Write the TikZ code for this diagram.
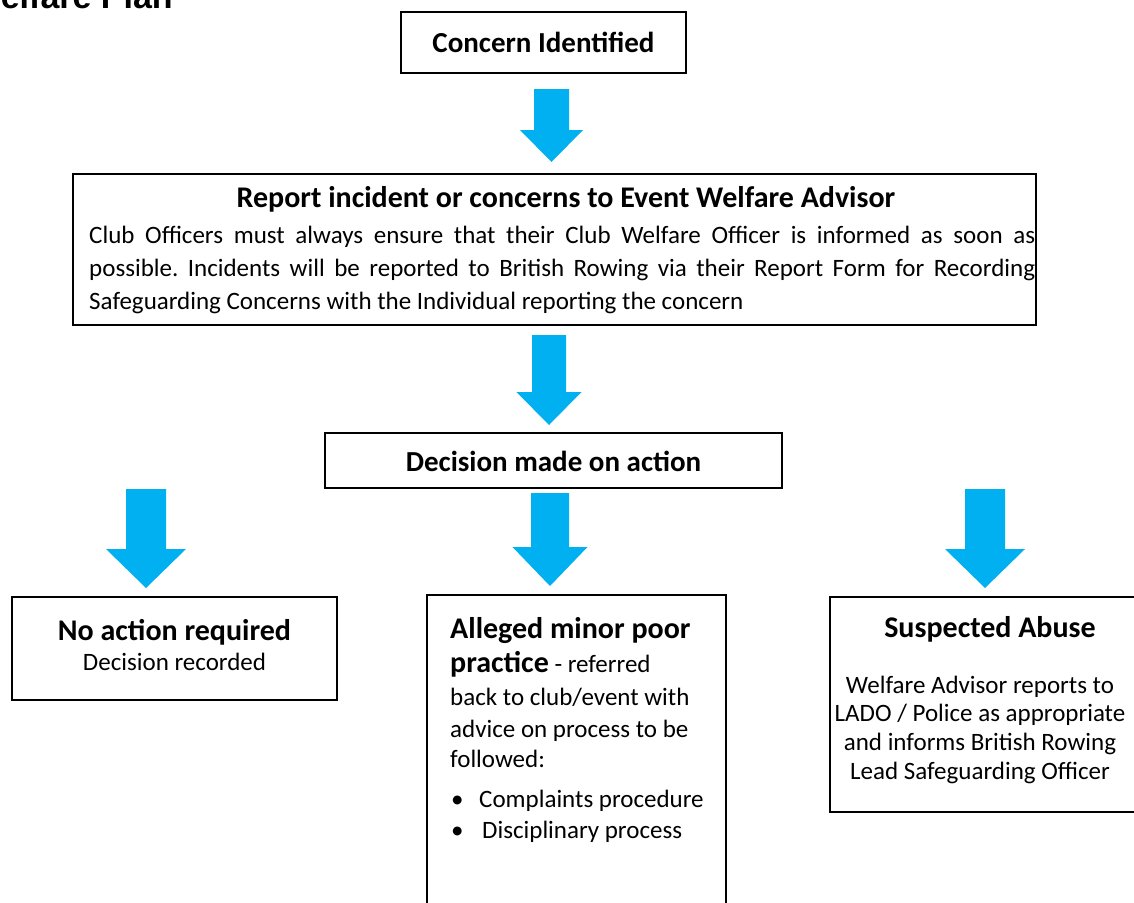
\documentclass[tikz,border=0pt]{standalone}
\usepackage{fontspec}
\setmainfont{Carlito}
\newfontfamily\titlefont{Liberation Sans}
\definecolor{arrowblue}{HTML}{00B0F0}
\frenchspacing
\newcommand\blockarrow[6]{% cx, top, headY, tip, shaftHalf, headHalf
  \fill[arrowblue] (#1-#5,#2) -- (#1+#5,#2) -- (#1+#5,#3) -- (#1+#6,#3) -- (#1,#4)
    -- (#1-#6,#3) -- (#1-#5,#3) -- cycle;}
\tikzset{
  box/.style={draw=black, line width=2pt, anchor=north west, inner sep=0pt, outer sep=0pt},
  headbold/.style={font=\fontsize{29}{35}\selectfont\bfseries, inner sep=0pt},
  bodytext/.style={font=\fontsize{25}{31}\selectfont, inner sep=0pt},
  reptext/.style={font=\fontsize{25}{31}\selectfont, inner sep=0pt, anchor=base west},
  linel/.style={bodytext, anchor=base west},
  linec/.style={bodytext, anchor=base},
}
\begin{document}
\begin{tikzpicture}[x=1pt,y=-1pt]
\useasboundingbox (0,0) rectangle (1134,902);
% cropped title
\node[font=\titlefont\fontsize{34}{40}\selectfont\bfseries, anchor=base east, inner sep=0pt] (title) at (173,9) {Welfare Plan};
% boxes
\node[box, minimum width=285pt, minimum height=61pt] (concern) at (401,12) {};
\node[box, minimum width=963pt, minimum height=151pt] (report) at (73,174) {};
\node[box, minimum width=457pt, minimum height=55pt] (decision) at (325,433) {};
\node[box, minimum width=325pt, minimum height=103pt] (noaction) at (12,597) {};
\node[box, minimum width=299pt, minimum height=330pt] (minor) at (427,595) {};
\node[box, minimum width=330pt, minimum height=215pt] (abuse) at (830,597) {};
% arrows
\blockarrow{551.5}{89}{130}{162}{17.5}{31.5}
\blockarrow{549}{335}{392}{425}{17}{32.5}
\blockarrow{146}{489}{549}{588}{20}{40}
\blockarrow{550}{493}{547}{586}{19}{37.5}
\blockarrow{985}{489}{549}{588}{20}{40}
% texts
\node[headbold] (t-concern) at (543.5,42.5) {Concern Identified};
\node[headbold, font=\fontsize{30}{36}\selectfont\bfseries, anchor=base] (t-report) at (566,207) {Report incident or concerns to Event Welfare Advisor};
\node[reptext] (r1) at (89,243) {\makebox[946pt][s]{Club Officers must always ensure that their Club Welfare Officer is informed as soon as}};
\node[reptext] (r2) at (89,276) {\makebox[946pt][s]{possible. Incidents will be reported to British Rowing via their Report Form for Recording}};
\node[reptext] (r3) at (89,309) {Safeguarding Concerns with the Individual reporting the concern};
\node[headbold] (t-decision) at (553.5,461) {Decision made on action};
\node[headbold, font=\fontsize{30}{36}\selectfont\bfseries, anchor=base] (n1) at (174.5,640) {No action required};
\node[linec] (n2) at (174.5,670) {Decision recorded};
\node[linel, font=\fontsize{30}{36}\selectfont\bfseries] (m1) at (450,638) {Alleged minor poor};
\node[linel] (m2) at (450,672) {{\fontsize{30}{36}\selectfont\bfseries practice} - referred};
\node[linel] (m3) at (450,705) {back to club/event with};
\node[linel] (m4) at (450,737) {advice on process to be};
\node[linel] (m5) at (450,767) {followed:};
\node[linel] (b1) at (451,807) {\textbullet};
\node[linel] (m6) at (479,807) {Complaints procedure};
\node[linel] (b2) at (451,838) {\textbullet};
\node[linel] (m7) at (482,838) {Disciplinary process};
\node[linec, font=\fontsize{30}{36}\selectfont\bfseries] (s1) at (990,637) {Suspected Abuse};
\node[linec] (s2) at (980,693) {Welfare Advisor reports to};
\node[linec] (s3) at (980,721) {LADO / Police as appropriate};
\node[linec] (s4) at (980,750) {and informs British Rowing};
\node[linec] (s5) at (980,779) {Lead Safeguarding Officer};
\end{tikzpicture}
\end{document}
